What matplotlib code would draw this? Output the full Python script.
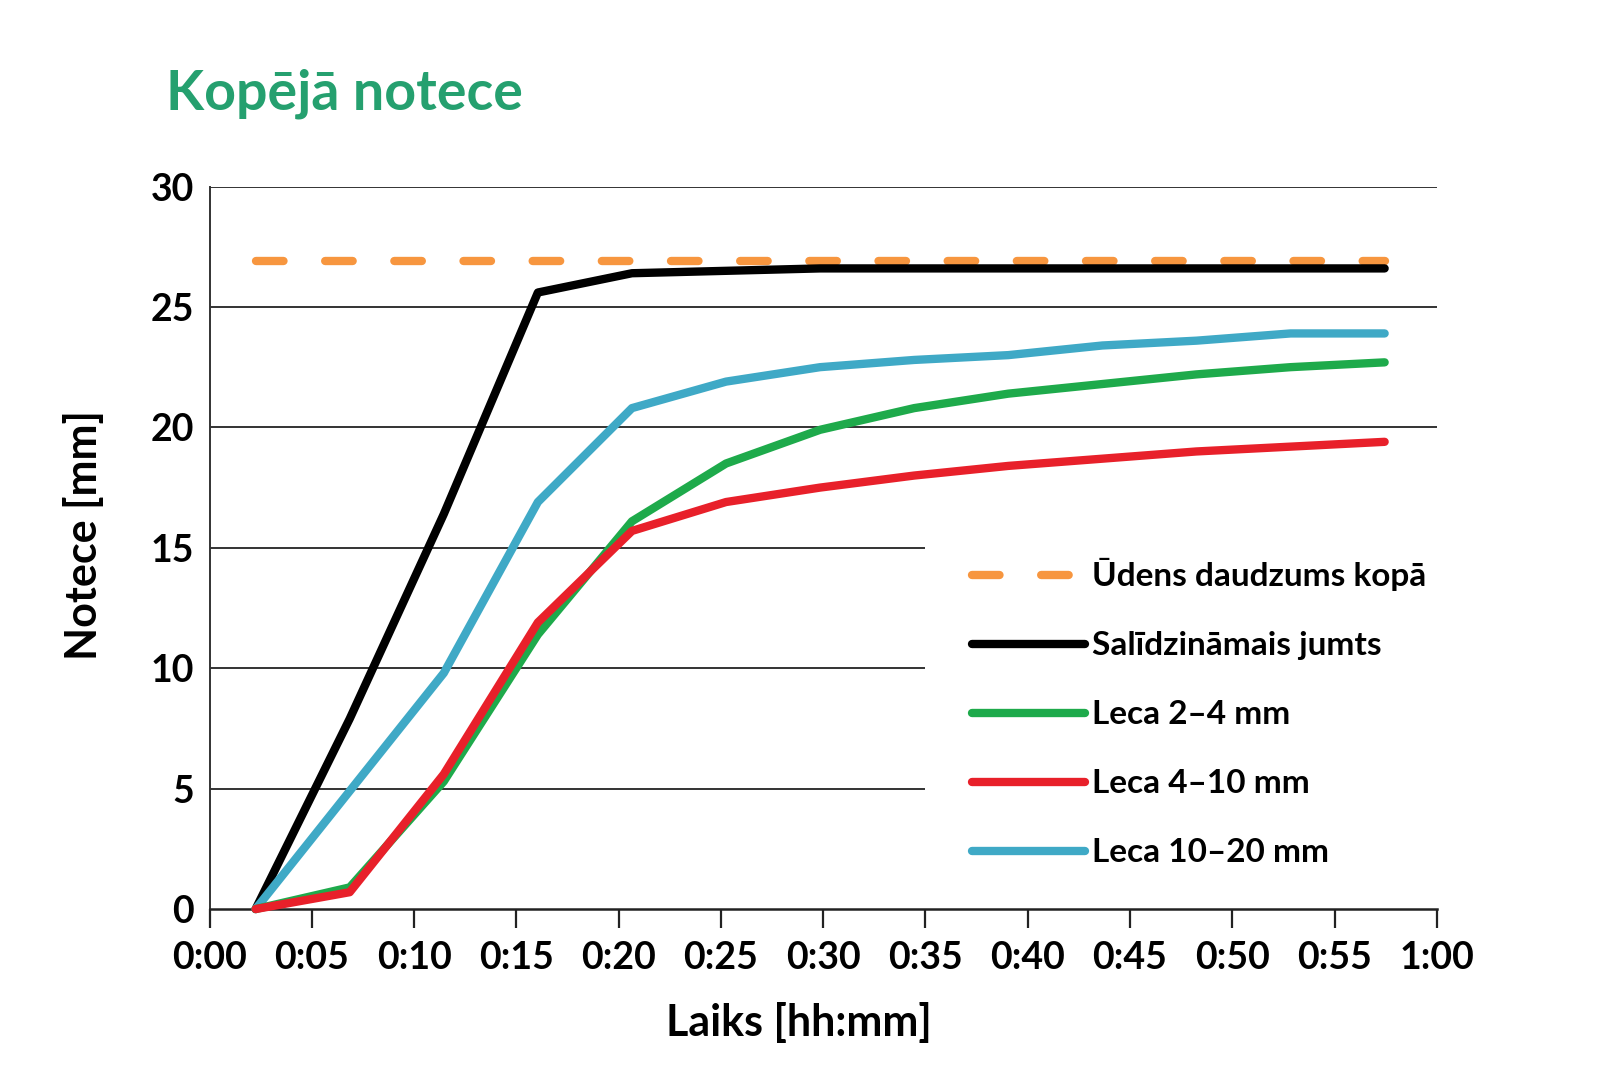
import matplotlib
matplotlib.use("Agg")
import matplotlib.pyplot as plt

plt.rcParams['font.family'] = ['Lato', 'DejaVu Sans']

# minutes after start
minutes = [2.25, 6.85, 11.45, 16.05, 20.65, 25.25, 29.85, 34.45, 39.05, 43.65, 48.25, 52.85, 57.45]

total_water = [26.9] * len(minutes)
reference_roof = [0, 7.9, 16.4, 25.6, 26.4, 26.5, 26.6, 26.6, 26.6, 26.6, 26.6, 26.6, 26.6]
leca_2_4 = [0, 0.9, 5.3, 11.4, 16.1, 18.5, 19.9, 20.8, 21.4, 21.8, 22.2, 22.5, 22.7]
leca_4_10 = [0, 0.7, 5.6, 11.9, 15.7, 16.9, 17.5, 18.0, 18.4, 18.7, 19.0, 19.2, 19.4]
leca_10_20 = [0, 4.9, 9.8, 16.9, 20.8, 21.9, 22.5, 22.8, 23.0, 23.4, 23.6, 23.9, 23.9]

x_ticks = list(range(0, 61, 5))
x_labels = ['0:00', '0:05', '0:10', '0:15', '0:20', '0:25', '0:30',
            '0:35', '0:40', '0:45', '0:50', '0:55', '1:00']
y_ticks = [0, 5, 10, 15, 20, 25, 30]

fig = plt.figure(figsize=(16, 10.72), dpi=100)
ax = fig.add_axes([0.131, 0.152, 0.767, 0.674])

grid_col = '#333333'
ax.hlines([5, 10, 15], 0, 35, color=grid_col, lw=1.4, zorder=1)
ax.hlines([20, 25, 30], 0, 60, color=grid_col, lw=1.4, zorder=1)

lw = 6
ax.plot(minutes, total_water, color='#F7963F', lw=lw, dashes=(3.3, 5),
        dash_capstyle='round', label='Ūdens daudzums kopā', zorder=3, clip_on=False)
ax.plot(minutes, reference_roof, color='#000000', lw=lw, solid_capstyle='round',
        label='Salīdzināmais jumts', zorder=4, clip_on=False)
ax.plot(minutes, leca_2_4, color='#1EAA4B', lw=lw, solid_capstyle='round',
        label='Leca 2–4 mm', zorder=5, clip_on=False)
ax.plot(minutes, leca_4_10, color='#E8202A', lw=lw, solid_capstyle='round',
        label='Leca 4–10 mm', zorder=6, clip_on=False)
ax.plot(minutes, leca_10_20, color='#3FA9C6', lw=lw, solid_capstyle='round',
        label='Leca 10–20 mm', zorder=4.5, clip_on=False)

ax.set_xlim(0, 60)
ax.set_ylim(0, 30)
ax.set_xticks(x_ticks)
ax.set_xticklabels(x_labels)
ax.set_yticks(y_ticks)

for s in ['top', 'right']:
    ax.spines[s].set_visible(False)
ax.spines['left'].set_color(grid_col)
ax.spines['left'].set_linewidth(1.4)
ax.spines['bottom'].set_color('#222222')
ax.spines['bottom'].set_linewidth(1.8)

ax.tick_params(axis='x', direction='out', length=14, width=1.6, color='#222222',
               pad=9, labelsize=27)
ax.tick_params(axis='y', length=0, pad=11, labelsize=27)
for lab in ax.get_xticklabels() + ax.get_yticklabels():
    lab.set_fontweight('bold')

ax.set_xlabel('Laiks [hh:mm]', fontsize=31, fontweight='bold')
ax.xaxis.set_label_coords(0.48, -0.128)
ax.set_ylabel('Notece [mm]', fontsize=31, fontweight='bold')
ax.yaxis.set_label_coords(-0.086, 0.517)

fig.text(0.104, 0.913, 'Kopējā notece', color='#25A06F', fontsize=40,
         fontweight='bold', va='center', ha='left')

leg = ax.legend(loc='upper left', bbox_to_anchor=(0.597, 0.495), bbox_transform=fig.transFigure,
                frameon=False, fontsize=24, handlelength=3.4, handletextpad=0.2,
                labelspacing=1.2, borderpad=0)
for t in leg.get_texts():
    t.set_fontweight('bold')

fig.savefig('out.png', dpi=100, facecolor='white')
